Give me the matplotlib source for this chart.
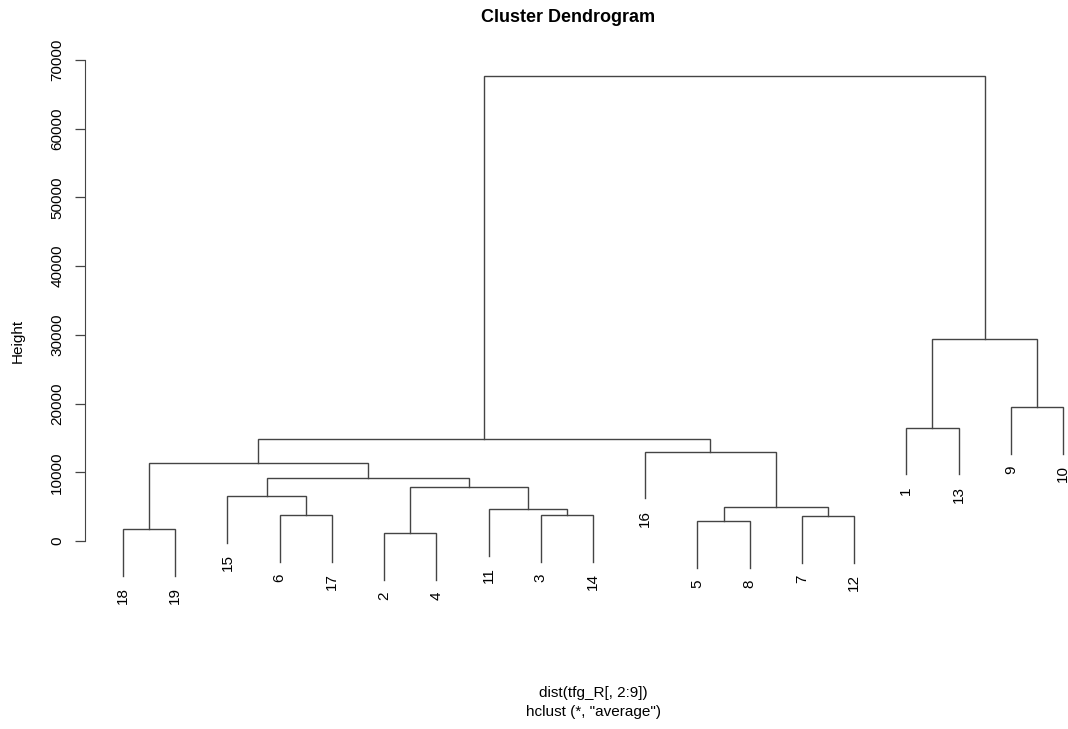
import matplotlib
matplotlib.use('Agg')
import matplotlib.pyplot as plt

plt.rcParams['font.family'] = ['Liberation Sans', 'DejaVu Sans']

# hclust result, R style: negative = leaf label, positive = earlier merge (1-based)
merge_left = [-2, -18, -5, -7, -6, -3, -11, 3, -15, 1, 9, 2, -16, 12, -1, -9, 15, 14]
merge_right = [-4, -19, -8, -12, -17, -14, 6, 4, 5, 7, 10, 11, 8, 13, -13, -10, 16, 17]
heights = [1164, 1746, 2911, 3638, 3784, 3784, 4657, 4948, 6549, 7859,
           9169, 11352, 12953, 14845, 16446, 19502, 29399, 67675]
leaf_order = [18, 19, 15, 6, 17, 2, 4, 11, 3, 14, 16, 5, 8, 7, 12, 1, 13, 9, 10]
yticks = [0, 10000, 20000, 30000, 40000, 50000, 60000, 70000]

hang = 0.1 * max(heights)
line_col = '#444444'
fs = 11

W, H = 1068, 729
fig = plt.figure(figsize=(W / 100, H / 100), dpi=100)
ax = fig.add_axes([85 / W, (H - 590) / H, 983 / W, 540 / H])

node_x = {}
node_y = {}


def child_xy(c, h):
    if c < 0:
        x = leaf_order.index(-c) + 1
        return x, h - hang
    return node_x[c], node_y[c]


for i, (a, b, h) in enumerate(zip(merge_left, merge_right, heights), start=1):
    xa, ya = child_xy(a, h)
    xb, yb = child_xy(b, h)
    ax.plot([xa, xa, xb, xb], [ya, h, h, yb], color=line_col, lw=1.0,
            solid_joinstyle='miter')
    for c, xc, yc in ((a, xa, ya), (b, xb, yb)):
        if c < 0:
            ax.annotate(str(-c), (xc, yc), xytext=(0, -8.5), textcoords='offset points',
                        ha='center', va='top', rotation=90, fontsize=fs)
    node_x[i] = (xa + xb) / 2
    node_y[i] = h

ax.set_xlim(0.272, 19.096)
ax.set_ylim(-7131, 71458)
for s in ['top', 'right', 'bottom']:
    ax.spines[s].set_visible(False)
ax.spines['left'].set_bounds(0, 70000)
ax.spines['left'].set_color(line_col)
ax.set_xticks([])
ax.set_yticks(yticks)
ax.set_yticklabels([str(v) for v in yticks], rotation=90, va='center', fontsize=fs)
ax.tick_params(axis='y', length=7, width=0.9, color=line_col, pad=8)

fig.text(18 / W, 1 - 341 / H, 'Height', rotation=90, ha='center', va='center', fontsize=fs)
fig.text(568 / W, 1 - 17 / H, 'Cluster Dendrogram', ha='center', va='center',
         fontsize=13, fontweight='bold')
fig.text(593 / W, 1 - 693 / H, 'dist(tfg_R[, 2:9])', ha='center', va='center', fontsize=fs)
fig.text(593 / W, 1 - 712 / H, 'hclust (*, "average")', ha='center', va='center', fontsize=fs)

fig.savefig('out.png', dpi=100)
